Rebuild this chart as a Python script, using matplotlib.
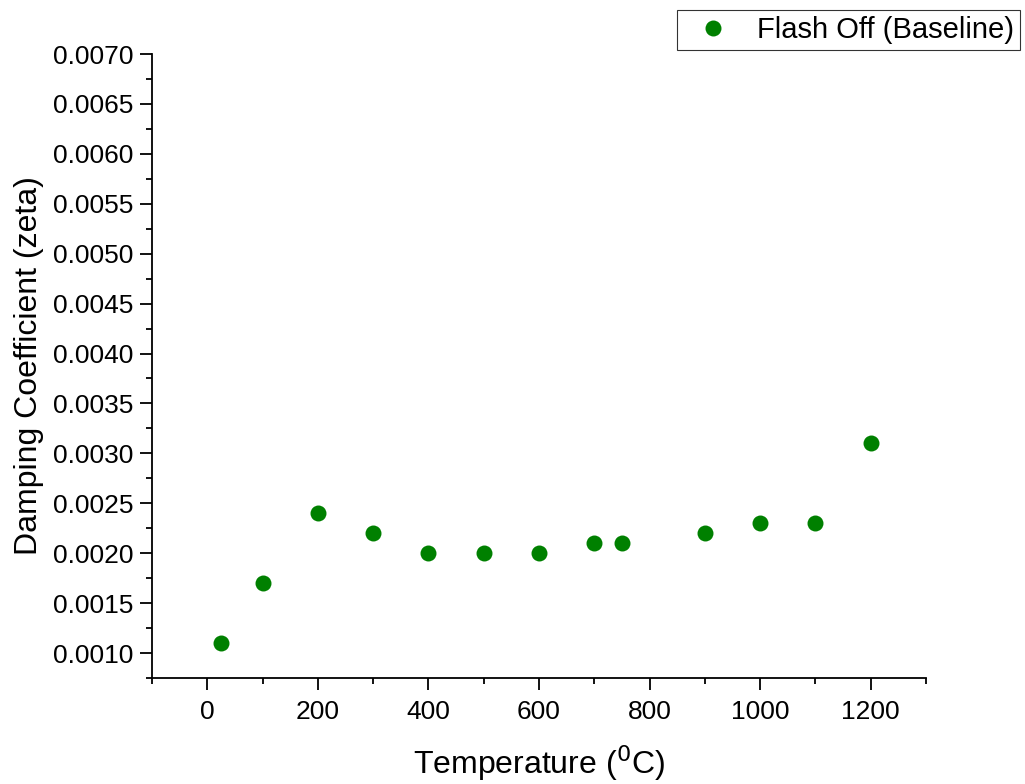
import numpy as np
import matplotlib
matplotlib.use("Agg")
import matplotlib.pyplot as plt
from matplotlib.ticker import MultipleLocator, FormatStrFormatter

temperature = [25, 100, 200, 300, 400, 500, 600, 700, 750, 900, 1000, 1100, 1200]
damping = [0.0011, 0.0017, 0.0024, 0.0022, 0.0020, 0.0020, 0.0020,
           0.0021, 0.0021, 0.0022, 0.0023, 0.0023, 0.0031]
series_label = "Flash Off (Baseline)"

plt.rcParams['font.family'] = ['Liberation Sans', 'DejaVu Sans']

fig = plt.figure(figsize=(10.25, 7.84), dpi=100)
ax = fig.add_axes([0.1483, 0.1352, 0.9034 - 0.1483, 0.9311 - 0.1352])

ax.plot(temperature, damping, 'o', color='green', markersize=11.5,
        markeredgewidth=0, label=series_label)

ax.set_xlim(-100, 1300)
ax.set_ylim(0.00075, 0.0070)
ax.xaxis.set_major_locator(MultipleLocator(200))
ax.xaxis.set_minor_locator(MultipleLocator(100))
ax.yaxis.set_major_locator(MultipleLocator(0.0005))
ax.yaxis.set_minor_locator(MultipleLocator(0.00025))
ax.yaxis.set_major_formatter(FormatStrFormatter('%.4f'))

for s in ['top', 'right']:
    ax.spines[s].set_visible(False)
for s in ['left', 'bottom']:
    ax.spines[s].set_linewidth(1.3)

ax.tick_params(which='major', direction='out', length=8.5, width=1.3, labelsize=19)
ax.tick_params(which='minor', direction='out', length=4.5, width=1.3)
ax.tick_params(axis='x', which='major', pad=7)
ax.tick_params(axis='y', which='major', pad=5)

ax.set_xlabel('Temperature ($^{0}$C)', fontsize=23, labelpad=14)
ax.set_ylabel('Damping Coefficient (zeta)', fontsize=23, labelpad=6)

leg = fig.legend(loc='upper right', bbox_to_anchor=(1020 / 1025, 774 / 784), fontsize=21,
                 frameon=True, fancybox=False, handletextpad=0.45, borderpad=0.2,
                 handlelength=2.1, borderaxespad=0, markerscale=1.0)
leg.get_frame().set_edgecolor('black')
leg.get_frame().set_linewidth(0.8)

fig.savefig('out.png', dpi=100)
